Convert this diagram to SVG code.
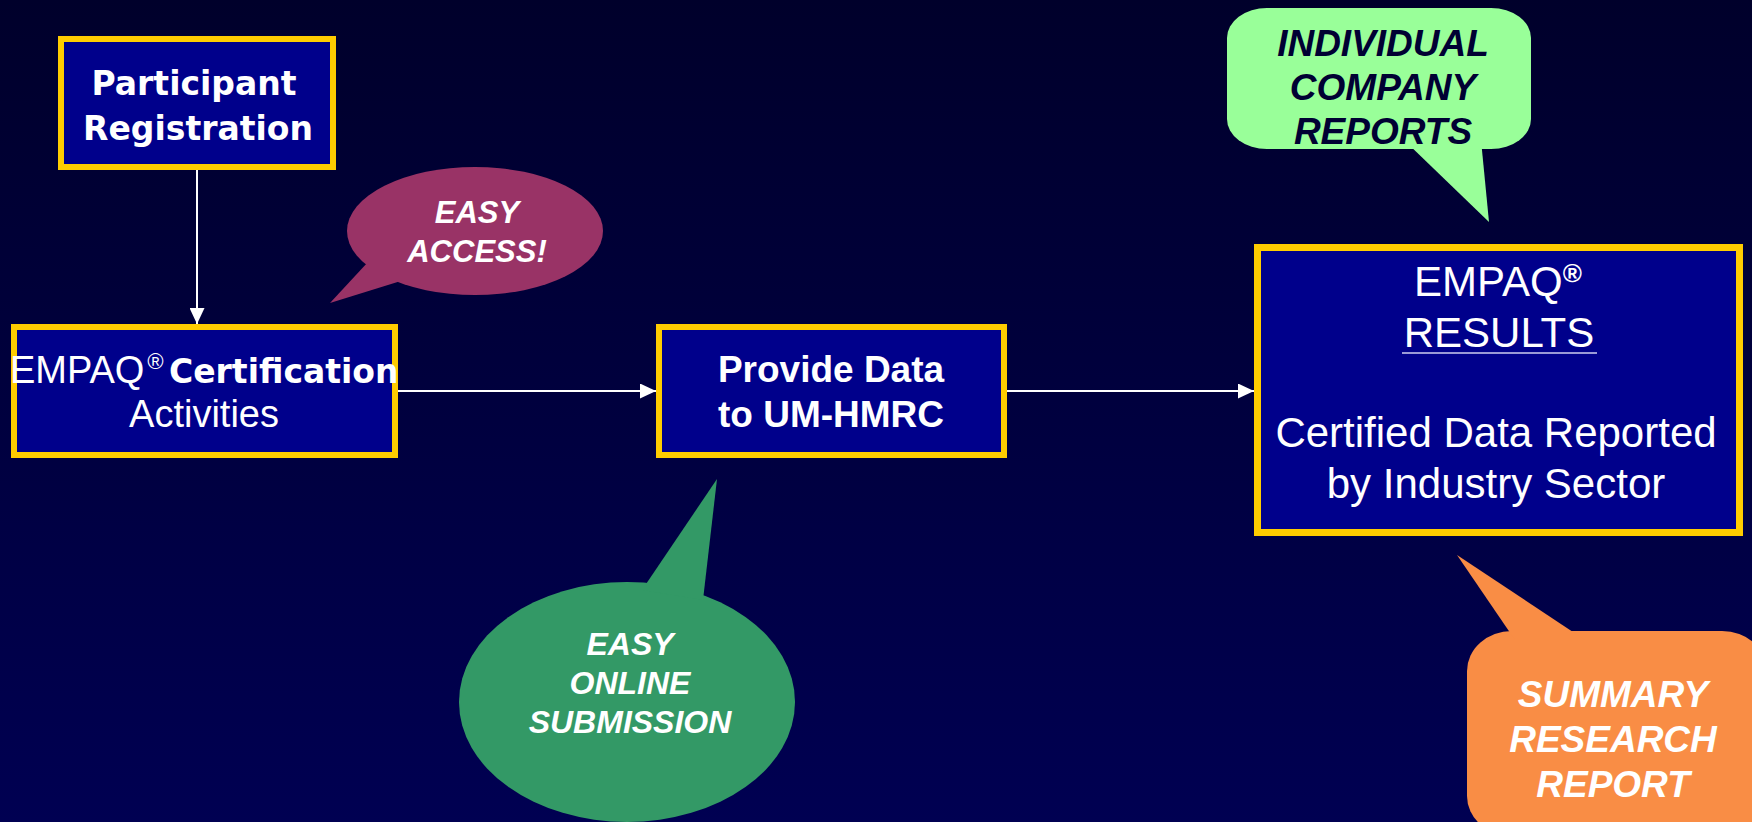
<svg xmlns="http://www.w3.org/2000/svg" width="1752" height="822" viewBox="0 0 1752 822">
<defs>
<linearGradient id="bg" x1="0" y1="0" x2="0" y2="1">
<stop offset="0" stop-color="#00002b"/>
<stop offset="1" stop-color="#000052"/>
</linearGradient>
<marker id="ah" markerUnits="userSpaceOnUse" markerWidth="16" markerHeight="15" refX="16" refY="7.5" orient="auto">
<path d="M0,0 L16,7.5 L0,15 z" fill="#ffffff"/>
</marker>
<style>
.box{fill:#00008b;stroke:#ffcc00;stroke-width:6}
.wt{fill:#ffffff;font-family:"Liberation Sans",Arial,sans-serif}
.bi{font-family:"Liberation Sans",Arial,sans-serif;font-weight:bold;font-style:italic;text-anchor:middle}
.conn{stroke:#ffffff;stroke-width:2;fill:none;marker-end:url(#ah)}
</style>
</defs>
<rect width="1752" height="822" fill="url(#bg)"/>

<g id="connectors">
<line class="conn" x1="197" y1="170" x2="197" y2="324"/>
<line class="conn" x1="398" y1="391" x2="656" y2="391"/>
<line class="conn" x1="1007" y1="391" x2="1254" y2="391"/>
</g>

<g id="participant-registration">
<rect class="box" x="61" y="39" width="272" height="128"/>
<text fill="#ffffff" font-family="DejaVu Sans,Verdana,sans-serif" font-weight="bold" font-size="33" text-anchor="middle"><tspan x="194" y="95">Participant</tspan><tspan x="198" y="140">Registration</tspan></text>
</g>

<g id="certification-activities">
<rect class="box" x="14" y="327" width="381" height="128"/>
<text class="wt" y="383" font-size="38"><tspan x="10">EMPAQ</tspan><tspan x="147" dy="-14" font-size="22" font-style="italic">®</tspan><tspan x="169" dy="14" font-family="DejaVu Sans,Verdana,sans-serif" font-weight="bold" font-size="33">Certification</tspan></text>
<text class="wt" x="204" y="427" font-size="38" text-anchor="middle">Activities</text>
</g>

<g id="provide-data">
<rect class="box" x="659" y="327" width="345" height="128"/>
<text class="wt" font-size="37" font-weight="bold" text-anchor="middle"><tspan x="831" y="382">Provide Data</tspan><tspan x="831" y="427">to UM-HMRC</tspan></text>
</g>

<g id="empaq-results">
<rect class="box" x="1257.5" y="247.5" width="482" height="285" style="stroke-width:7"/>
<text class="wt" x="1498" y="296" font-size="42" text-anchor="middle">EMPAQ<tspan dy="-14" font-size="26" font-weight="bold">®</tspan></text>
<text class="wt" x="1499" y="347" font-size="42" text-anchor="middle">RESULTS</text>
<line x1="1402" y1="353" x2="1597" y2="353" stroke="#9a9ad6" stroke-width="2"/>
<text class="wt" font-size="42" text-anchor="middle"><tspan x="1496" y="447">Certified Data Reported</tspan><tspan x="1496" y="498">by Industry Sector</tspan></text>
</g>

<g id="callout-easy-access">
<ellipse cx="475" cy="231" rx="128" ry="64" fill="#993366"/>
<polygon points="368,262 330,303 404,280" fill="#993366"/>
<text class="bi" fill="#ffffff" font-size="31"><tspan x="477" y="223">EASY</tspan><tspan x="477" y="262">ACCESS!</tspan></text>
</g>

<g id="callout-online-submission">
<ellipse cx="627" cy="702" rx="168" ry="120" fill="#339966"/>
<polygon points="642,590 717,479 703,600" fill="#339966"/>
<text class="bi" fill="#ffffff" font-size="32"><tspan x="630" y="655">EASY</tspan><tspan x="630" y="694">ONLINE</tspan><tspan x="630" y="733">SUBMISSION</tspan></text>
</g>

<g id="callout-company-reports">
<rect x="1227" y="8" width="304" height="141" rx="40" ry="30" fill="#99ff99"/>
<polygon points="1404,140 1489,222 1481,140" fill="#99ff99"/>
<text class="bi" fill="#000033" font-size="37"><tspan x="1383" y="56">INDIVIDUAL</tspan><tspan x="1383" y="100">COMPANY</tspan><tspan x="1383" y="144">REPORTS</tspan></text>
</g>

<g id="callout-summary-report">
<rect x="1467" y="631" width="300" height="205" rx="45" ry="40" fill="#f98d45"/>
<polygon points="1515,640 1457,555 1585,640" fill="#f98d45"/>
<text class="bi" fill="#ffffff" font-size="37"><tspan x="1613" y="707">SUMMARY</tspan><tspan x="1613" y="752">RESEARCH</tspan><tspan x="1613" y="797">REPORT</tspan></text>
</g>
</svg>
